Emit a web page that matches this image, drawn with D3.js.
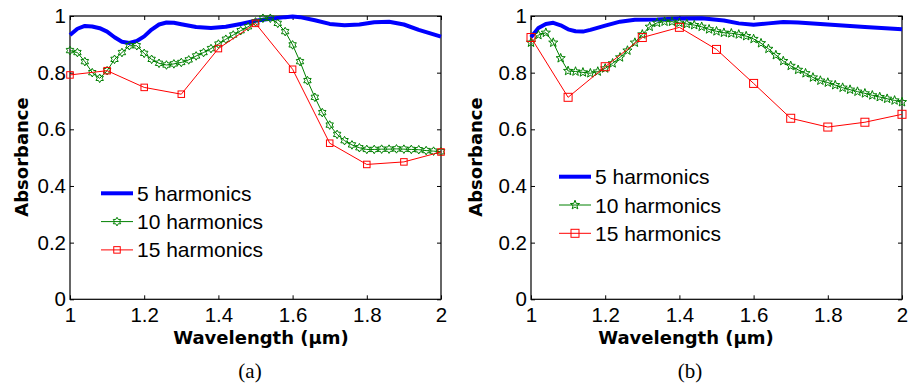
<!DOCTYPE html>
<html>
<head>
<meta charset="utf-8">
<script src="https://cdn.jsdelivr.net/npm/d3@7/dist/d3.min.js"></script>
<style>
  html, body { margin: 0; padding: 0; background: #fff; }
  svg { display: block; }
  .tick text { font-family: "Liberation Sans", Arial, sans-serif; font-size: 20.5px; fill: #000; }
</style>
</head>
<body>
<svg id="chart" width="908" height="387"></svg>
<script>
// wavelength grids (um)
const wlFine = [1.00, 1.02, 1.04, 1.06, 1.08, 1.10, 1.12, 1.14, 1.16, 1.18, 1.20, 1.22, 1.24, 1.26, 1.28, 1.30,
  1.32, 1.34, 1.36, 1.38, 1.40, 1.42, 1.44, 1.46, 1.48, 1.50, 1.52, 1.54, 1.56, 1.58, 1.60, 1.62, 1.64, 1.66,
  1.68, 1.70, 1.72, 1.74, 1.76, 1.78, 1.80, 1.82, 1.84, 1.86, 1.88, 1.90, 1.92, 1.94, 1.96, 1.98, 2.00];
const wlCoarse = [1.0, 1.1, 1.2, 1.3, 1.4, 1.5, 1.6, 1.7, 1.8, 1.9, 2.0];

// panel (a)
const blueA_x = [1.00, 1.02, 1.04, 1.06, 1.08, 1.10, 1.12, 1.14, 1.16, 1.18, 1.20, 1.22, 1.24, 1.26, 1.28, 1.30,
  1.34, 1.38, 1.42, 1.46, 1.50, 1.54, 1.58, 1.60, 1.62, 1.66, 1.70, 1.74, 1.78, 1.82, 1.86, 1.90, 1.94, 1.98, 2.00];
const blueA_y = [0.933, 0.955, 0.965, 0.963, 0.957, 0.945, 0.925, 0.909, 0.905, 0.912, 0.928, 0.952, 0.970, 0.977,
  0.976, 0.971, 0.961, 0.958, 0.962, 0.972, 0.983, 0.990, 0.996, 0.998, 0.996, 0.985, 0.972, 0.967, 0.970, 0.978,
  0.980, 0.970, 0.951, 0.935, 0.927];
const greenA = [0.878, 0.871, 0.839, 0.800, 0.780, 0.807, 0.847, 0.871, 0.895, 0.895, 0.868, 0.847, 0.833, 0.827,
  0.831, 0.836, 0.845, 0.859, 0.871, 0.885, 0.901, 0.918, 0.933, 0.948, 0.962, 0.979, 0.992, 0.992, 0.974, 0.945,
  0.898, 0.839, 0.772, 0.713, 0.659, 0.615, 0.582, 0.560, 0.545, 0.535, 0.529, 0.529, 0.530, 0.530, 0.531, 0.530,
  0.529, 0.528, 0.525, 0.523, 0.521];
const redA = [0.792, 0.807, 0.748, 0.724, 0.885, 0.974, 0.812, 0.551, 0.476, 0.485, 0.520];

// panel (b)
const blueB_x = [1.00, 1.02, 1.04, 1.06, 1.08, 1.10, 1.12, 1.14, 1.16, 1.20, 1.24, 1.28, 1.34, 1.40, 1.46, 1.52,
  1.56, 1.60, 1.64, 1.68, 1.72, 1.80, 1.90, 2.00];
const blueB_y = [0.925, 0.958, 0.972, 0.976, 0.967, 0.953, 0.946, 0.945, 0.951, 0.966, 0.980, 0.987, 0.988, 0.991,
  0.992, 0.984, 0.974, 0.969, 0.974, 0.979, 0.977, 0.970, 0.961, 0.953];
const greenB = [0.906, 0.933, 0.941, 0.906, 0.851, 0.806, 0.804, 0.801, 0.798, 0.804, 0.815, 0.833, 0.854, 0.878,
  0.906, 0.935, 0.962, 0.976, 0.980, 0.980, 0.976, 0.972, 0.968, 0.962, 0.953, 0.946, 0.941, 0.939, 0.935, 0.929,
  0.919, 0.904, 0.884, 0.862, 0.841, 0.824, 0.810, 0.798, 0.783, 0.772, 0.765, 0.756, 0.747, 0.740, 0.733, 0.727,
  0.720, 0.714, 0.708, 0.702, 0.696];
const redB = [0.924, 0.713, 0.821, 0.924, 0.960, 0.882, 0.762, 0.639, 0.608, 0.625, 0.653];

const xTicks = [1, 1.2, 1.4, 1.6, 1.8, 2];
const yTicks = [0, 0.2, 0.4, 0.6, 0.8, 1];
const seriesNames = ['5 harmonics', '10 harmonics', '15 harmonics'];

const BLUE = '#0000ff', GREEN = '#008000', RED = '#ff0000';
const sans = '"Liberation Sans", Arial, sans-serif';
const boldSans = '"DejaVu Sans", Verdana, sans-serif';

const svg = d3.select('#chart');
const fmt = d => (d === 0 || d === 1 || d === 2) ? String(d) : d.toFixed(1);

// star outline: n points, outer radius r, inner radius r*k
function starPath(n, r, k) {
  const pts = [];
  for (let i = 0; i < 2 * n; i++) {
    const a = -Math.PI / 2 + i * Math.PI / n;
    const rr = i % 2 === 0 ? r : r * k;
    pts.push([rr * Math.cos(a), rr * Math.sin(a)]);
  }
  return 'M' + pts.map(p => p[0].toFixed(2) + ',' + p[1].toFixed(2)).join('L') + 'Z';
}

function drawPanel(p) {
  const g = svg.append('g');
  const x = d3.scaleLinear().domain([1, 2]).range([p.left, p.right]);
  const y = d3.scaleLinear().domain([0, 1]).range([p.bottom, p.top]);

  // axes with inward ticks on all four sides
  g.append('g').attr('transform', `translate(${p.left},0)`)
    .call(d3.axisLeft(y).tickValues(yTicks).tickFormat(fmt).tickSizeInner(-4).tickSizeOuter(0).tickPadding(4))
    .call(a => a.select('.domain').remove());
  g.append('g').attr('transform', `translate(${p.right},0)`)
    .call(d3.axisRight(y).tickValues(yTicks).tickFormat('').tickSizeInner(-4).tickSizeOuter(0))
    .call(a => a.select('.domain').remove());
  g.append('g').attr('transform', `translate(0,${p.bottom})`)
    .call(d3.axisBottom(x).tickValues(xTicks).tickFormat(fmt).tickSizeInner(-4).tickSizeOuter(0).tickPadding(8))
    .call(a => a.select('.domain').remove());
  g.append('g').attr('transform', `translate(0,${p.top})`)
    .call(d3.axisTop(x).tickValues(xTicks).tickFormat('').tickSizeInner(-4).tickSizeOuter(0))
    .call(a => a.select('.domain').remove());
  g.selectAll('.tick line').attr('stroke', '#000');

  g.append('rect')
    .attr('x', p.left).attr('y', p.top)
    .attr('width', p.right - p.left).attr('height', p.bottom - p.top)
    .attr('fill', 'none').attr('stroke', '#000').attr('stroke-width', 1.2);

  const line = d3.line().x(d => x(d[0])).y(d => y(d[1]));

  // 5 harmonics
  g.append('path')
    .attr('d', line(p.blueX.map((v, i) => [v, p.blueY[i]])))
    .attr('fill', 'none').attr('stroke', BLUE).attr('stroke-width', 4).attr('stroke-linejoin', 'round');

  // 10 harmonics
  const gData = wlFine.map((v, i) => [v, p.green[i]]);
  g.append('path').attr('d', line(gData))
    .attr('fill', 'none').attr('stroke', GREEN).attr('stroke-width', 1);
  g.append('g').selectAll('path').data(gData).join('path')
    .attr('transform', d => `translate(${x(d[0])},${y(d[1])})`)
    .attr('d', p.star)
    .attr('fill', 'none').attr('stroke', GREEN).attr('stroke-width', 1);

  // 15 harmonics
  const rData = wlCoarse.map((v, i) => [v, p.red[i]]);
  g.append('path').attr('d', line(rData))
    .attr('fill', 'none').attr('stroke', RED).attr('stroke-width', 1);
  g.append('g').selectAll('rect').data(rData).join('rect')
    .attr('x', d => x(d[0]) - p.sq / 2).attr('y', d => y(d[1]) - p.sq / 2)
    .attr('width', p.sq).attr('height', p.sq)
    .attr('fill', 'none').attr('stroke', RED).attr('stroke-width', 1);

  // legend
  const lg = g.append('g');
  const rows = [
    { name: seriesNames[0], color: BLUE, w: 4 },
    { name: seriesNames[1], color: GREEN, w: 1, mark: 'star' },
    { name: seriesNames[2], color: RED, w: 1, mark: 'sq' },
  ];
  rows.forEach((r, i) => {
    const yy = p.legY + i * 28.3;
    lg.append('line').attr('x1', p.legX).attr('x2', p.legX + 32).attr('y1', yy).attr('y2', yy)
      .attr('stroke', r.color).attr('stroke-width', r.w);
    if (r.mark === 'star') {
      lg.append('path').attr('transform', `translate(${p.legX + 16},${yy})`).attr('d', p.star)
        .attr('fill', 'none').attr('stroke', r.color);
    } else if (r.mark === 'sq') {
      lg.append('rect').attr('x', p.legX + 16 - p.sq / 2).attr('y', yy - p.sq / 2)
        .attr('width', p.sq).attr('height', p.sq).attr('fill', 'none').attr('stroke', r.color);
    }
    lg.append('text').attr('x', p.legX + 36).attr('y', yy).attr('dy', '0.36em')
      .attr('font-family', sans).attr('font-size', 21).text(r.name);
  });

  // axis titles
  g.append('text')
    .attr('x', p.xlabX).attr('y', 344).attr('text-anchor', 'middle')
    .attr('font-family', boldSans).attr('font-weight', 'bold').attr('font-size', 18)
    .text('Wavelength (μm)');
  g.append('text')
    .attr('transform', `translate(${p.ylabX},${157}) rotate(-90)`).attr('text-anchor', 'middle')
    .attr('font-family', boldSans).attr('font-weight', 'bold').attr('font-size', 18)
    .text('Absorbance');
  g.append('text')
    .attr('x', p.capX).attr('y', 378).attr('text-anchor', 'middle')
    .attr('font-family', '"Liberation Serif", "Times New Roman", serif').attr('font-size', 21)
    .text(p.caption);
}

drawPanel({
  left: 70, right: 441, top: 16, bottom: 299.3,
  blueX: blueA_x, blueY: blueA_y, green: greenA, red: redA,
  star: starPath(6, 4.3, 0.577), sq: 6.5,
  legX: 101, legY: 193.3, xlabX: 261, ylabX: 28, capX: 250, caption: '(a)'
});
drawPanel({
  left: 531, right: 902, top: 16, bottom: 299.3,
  blueX: blueB_x, blueY: blueB_y, green: greenB, red: redB,
  star: starPath(5, 4.8, 0.42), sq: 8,
  legX: 559, legY: 176.7, xlabX: 686, ylabX: 482, capX: 690, caption: '(b)'
});
</script>
</body>
</html>
